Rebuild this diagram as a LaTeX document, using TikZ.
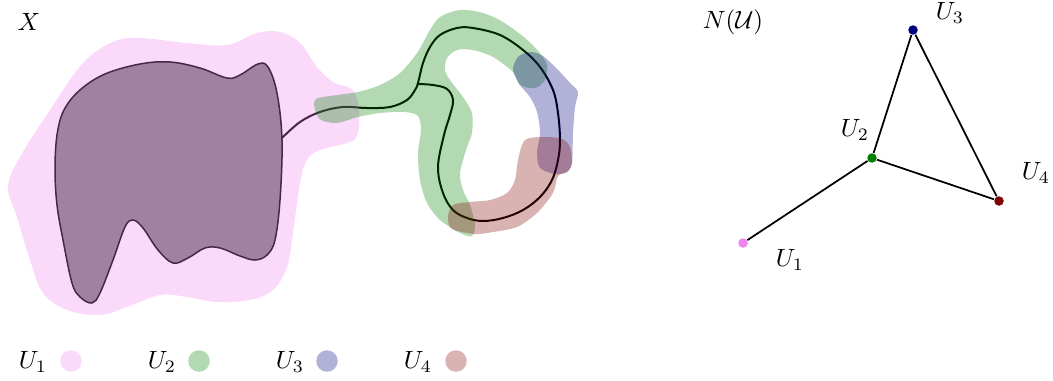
\documentclass[tikz,border=0pt]{standalone}
\usepackage{amsmath,amssymb}
\usepackage{tikz}
\usetikzlibrary{positioning}
\definecolor{setone}{RGB}{238,130,238}
\definecolor{settwo}{RGB}{0,128,0}
\definecolor{setthree}{RGB}{0,0,128}
\definecolor{setfour}{RGB}{128,0,0}
\tikzset{cover/.style={fill=#1,fill opacity=0.3,draw=none}, space/.style={fill=black!50,draw=black,line width=0.6pt}, path/.style={draw=black,line width=0.8pt}, vert/.style={circle,fill=#1,inner sep=0pt,minimum size=3.8pt}, nerve/.style={draw=black,line width=0.7pt}, legdot/.style={circle,fill=#1,fill opacity=0.3,inner sep=0pt,minimum size=8.6pt}}

\begin{document}
\begin{tikzpicture}[x=0.4pt,y=-0.4pt]
\useasboundingbox (0,0) rectangle (1053,380);
% the space X
\draw[space] plot[smooth cycle,tension=0.6] coordinates {(55,170) (57,135) (64,110) (80,90) (105,74) (140,64) (170,62) (200,68) (227,78) (240,75) (258,64) (268,67) (277,93) (282,140) (280,200) (275,240) (267,255) (255,260) (240,256) (220,248) (205,248) (188,258) (173,263) (158,250) (143,228) (133,220) (125,227) (113,260) (100,293) (92,303) (80,297) (72,283) (63,240) (57,205)};
\draw[path] plot[smooth,tension=0.6] coordinates {(282,138) (300,122) (320,112) (343,107) (367,108) (390,107) (407,100) (415,90) (418,83) (423,63) (430,47) (440,35) (457,28) (473,28) (500,35) (523,50) (540,67) (553,90) (558,113) (560,140) (558,160) (552,180) (540,197) (523,210) (503,218) (483,221) (467,218) (453,210) (443,193) (438,167) (444,135) (450,115) (453,100) (447,89) (433,85) (418,84)};
% the cover
\fill[cover=setone] plot[smooth cycle,tension=0.6] coordinates {(8,187) (20,157) (50,110) (83,63) (113,42) (140,38) (187,43) (227,45) (257,33) (280,32) (300,43) (317,67) (333,82) (353,90) (359,110) (358,133) (350,142) (320,150) (307,160) (300,183) (293,233) (287,267) (273,290) (250,300) (217,302) (187,297) (160,295) (127,307) (100,315) (67,310) (43,293) (30,260) (17,217)};
\fill[cover=settwo] plot[smooth cycle,tension=0.5] coordinates {(316,99) (337,95) (358,92) (380,85) (400,73) (417,53) (430,30) (440,17) (460,10) (483,13) (503,22) (525,38) (539,52) (547,65) (545,80) (535,88) (520,85) (513,72) (493,57) (473,50) (457,50) (447,58) (445,70) (450,80) (463,97) (472,113) (472,133) (467,147) (460,173) (463,190) (470,205) (475,225) (472,236) (460,233) (440,220) (427,203) (420,180) (418,153) (421,130) (418,116) (405,112) (380,113) (358,117) (337,123) (321,120) (315,110)};
\fill[cover=setthree] plot[smooth cycle,tension=0.5] coordinates {(513,70) (518,57) (530,52) (543,56) (560,72) (570,83) (578,92) (575,107) (573,133) (572,163) (567,172) (555,174) (540,168) (537,153) (540,133) (537,112) (530,97) (520,85)};
\fill[cover=setfour] plot[smooth cycle,tension=0.5] coordinates {(525,140) (545,137) (562,139) (570,147) (572,163) (567,172) (558,176) (553,193) (537,213) (517,227) (493,232) (475,234) (452,229) (448,217) (453,205) (470,202) (490,200) (507,193) (515,180) (518,160)};
\node (X) at (29,22) {$X$};
% legend
\node (l1) at (33,362) {$U_1$};
\node[legdot=setone] (d1) at (71,361) {};
\node (l2) at (162,362) {$U_2$};
\node[legdot=settwo] (d2) at (199,361) {};
\node (l3) at (290,362) {$U_3$};
\node[legdot=setthree] (d3) at (327,361) {};
\node (l4) at (418,362) {$U_4$};
\node[legdot=setfour] (d4) at (456,361) {};
% the nerve
\node (N) at (733,22) {$N(\mathcal{U})$};
\node[vert=setone] (u1) at (743,243) {};
\node[vert=settwo] (u2) at (872,158) {};
\node[vert=setthree] (u3) at (913,30) {};
\node[vert=setfour] (u4) at (999,201) {};
\draw[nerve] (u1)--(u2);
\draw[nerve] (u2)--(u3);
\draw[nerve] (u2)--(u4);
\draw[nerve] (u3)--(u4);
\node (t1) at (790,260) {$U_1$};
\node (t2) at (855,130) {$U_2$};
\node (t3) at (950,13) {$U_3$};
\node (t4) at (1036,173) {$U_4$};
\end{tikzpicture}
\end{document}
